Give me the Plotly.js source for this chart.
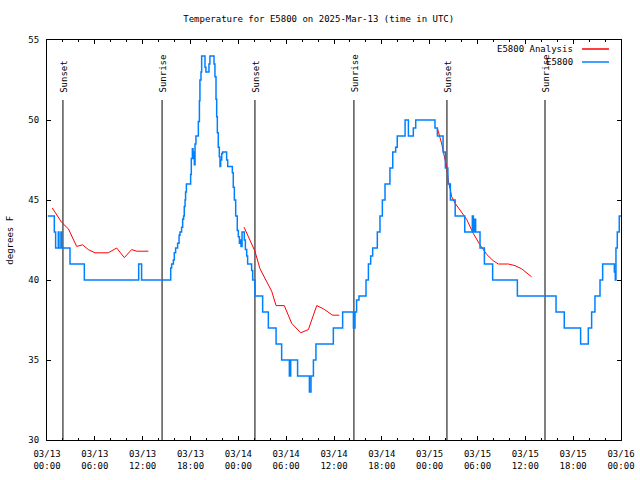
<!DOCTYPE html>
<html>
<head>
<meta charset="utf-8">
<script src="https://cdn.plot.ly/plotly-3.0.1.min.js"></script>
<style>html,body{margin:0;padding:0;background:#fff;}#chart{width:640px;height:480px;}</style>
</head>
<body>
<div id="chart"></div>
<script>
// Observed station temperature (E5800), step series
var obsTimes = [
 '2025-03-13 00:06','2025-03-13 00:55','2025-03-13 01:05','2025-03-13 01:25','2025-03-13 01:30','2025-03-13 01:45',
 '2025-03-13 01:50','2025-03-13 02:53','2025-03-13 04:41','2025-03-13 11:30',
 '2025-03-13 11:52','2025-03-13 15:31','2025-03-13 15:38','2025-03-13 15:51','2025-03-13 15:58','2025-03-13 16:08',
 '2025-03-13 16:23','2025-03-13 16:34','2025-03-13 16:41','2025-03-13 16:53','2025-03-13 17:01','2025-03-13 17:08',
 '2025-03-13 17:13','2025-03-13 17:19','2025-03-13 17:23','2025-03-13 17:29','2025-03-13 18:01','2025-03-13 18:06',
 '2025-03-13 18:14','2025-03-13 18:19','2025-03-13 18:24','2025-03-13 18:29','2025-03-13 18:34','2025-03-13 18:41',
 '2025-03-13 18:59','2025-03-13 19:07','2025-03-13 19:11','2025-03-13 19:19','2025-03-13 19:24','2025-03-13 19:49',
 '2025-03-13 19:56','2025-03-13 20:19','2025-03-13 20:26','2025-03-13 20:57','2025-03-13 21:04','2025-03-13 21:12',
 '2025-03-13 21:17','2025-03-13 21:22','2025-03-13 21:29','2025-03-13 21:37','2025-03-13 21:42','2025-03-13 21:47',
 '2025-03-13 21:55','2025-03-13 22:02','2025-03-13 22:32','2025-03-13 22:40','2025-03-13 23:15','2025-03-13 23:22',
 '2025-03-13 23:30','2025-03-13 23:40','2025-03-13 23:52','2025-03-14 00:00','2025-03-14 00:08','2025-03-14 00:13',
 '2025-03-14 00:20','2025-03-14 00:28','2025-03-14 00:45','2025-03-14 00:53','2025-03-14 01:03','2025-03-14 01:10',
 '2025-03-14 01:40','2025-03-14 01:48','2025-03-14 02:05','2025-03-14 03:03','2025-03-14 03:46','2025-03-14 04:44',
 '2025-03-14 05:26','2025-03-14 06:24','2025-03-14 06:34','2025-03-14 07:26','2025-03-14 08:55','2025-03-14 09:07',
 '2025-03-14 09:25','2025-03-14 09:44','2025-03-14 11:55','2025-03-14 13:05','2025-03-14 14:26','2025-03-14 14:38',
 '2025-03-14 14:50','2025-03-14 15:08','2025-03-14 16:01','2025-03-14 16:19','2025-03-14 16:36','2025-03-14 16:51',
 '2025-03-14 17:26','2025-03-14 17:46','2025-03-14 18:04','2025-03-14 18:24','2025-03-14 19:01','2025-03-14 19:22',
 '2025-03-14 19:44','2025-03-14 19:56','2025-03-14 20:55','2025-03-14 21:20','2025-03-14 21:57','2025-03-14 22:15',
 '2025-03-15 00:40','2025-03-15 00:58','2025-03-15 01:41','2025-03-15 01:58','2025-03-15 02:17','2025-03-15 02:36',
 '2025-03-15 03:12','2025-03-15 04:24','2025-03-15 05:21','2025-03-15 05:29','2025-03-15 05:36','2025-03-15 05:46',
 '2025-03-15 06:19','2025-03-15 06:52','2025-03-15 07:54','2025-03-15 11:00','2025-03-15 15:51','2025-03-15 16:53',
 '2025-03-15 18:56','2025-03-15 19:54','2025-03-15 20:19','2025-03-15 20:44','2025-03-15 21:22','2025-03-15 21:42',
 '2025-03-15 23:10','2025-03-15 23:17','2025-03-15 23:22','2025-03-15 23:32','2025-03-15 23:47','2025-03-16 00:00'
];
var obsTemps = [
 44,43,42,43,42,43,
 42,41,40,41,
 40,40.75,41,41.25,41.7,42,
 42.3,42.8,43,43.3,43.8,44,
 44.6,45,45.5,46,46.6,47.6,
 48.2,47.6,48,47.2,48.5,49,
 49.9,51.2,52.5,53,54,53.3,
 53,53.5,54,53.5,52.7,51.3,
 50.2,49.2,48.3,47.7,47.1,47.5,
 47.9,48,47.5,47.1,46.7,45.8,
 45,44,43.1,42.7,42.3,42.5,
 42.1,43,42.5,41.9,41.5,41,
 40.6,40,39,38,37,36,
 35,34,35,34,33,34,
 35,36,37,38,37,38,
 38.75,39,40,41,41.5,42,
 43,44,45,46,47,48,
 48.3,49,50,49,49.5,50,
 49.5,49,48,47,46,45,
 44,43,44,43,43.8,43,
 42,41,40,39,38,37,
 36,37,38,39,40,41,
 40.5,40,42,43,44,44
];

// Analysis temperature (E5800 Analysis)
var anaTimes = [
 '2025-03-13 00:40','2025-03-13 01:50','2025-03-13 02:41','2025-03-13 03:18','2025-03-13 03:43','2025-03-13 04:28',
 '2025-03-13 05:11','2025-03-13 06:01','2025-03-13 06:26','2025-03-13 07:41','2025-03-13 08:44','2025-03-13 09:42',
 '2025-03-13 10:37','2025-03-13 11:15','2025-03-13 12:43','2025-03-13 18:00',
 '2025-03-14 00:43','2025-03-14 01:28','2025-03-14 02:05','2025-03-14 02:43','2025-03-14 03:33','2025-03-14 04:11',
 '2025-03-14 04:44','2025-03-14 05:46','2025-03-14 06:41','2025-03-14 07:49','2025-03-14 08:47','2025-03-14 09:50',
 '2025-03-14 10:40','2025-03-14 11:50','2025-03-14 12:40','2025-03-14 18:00',
 '2025-03-15 00:58','2025-03-15 01:31','2025-03-15 01:56','2025-03-15 02:08','2025-03-15 02:21','2025-03-15 02:46',
 '2025-03-15 03:11','2025-03-15 03:48','2025-03-15 04:38','2025-03-15 05:29','2025-03-15 06:19','2025-03-15 07:09',
 '2025-03-15 07:59','2025-03-15 08:37','2025-03-15 09:52','2025-03-15 10:42','2025-03-15 11:32','2025-03-15 12:47'
];
var anaTemps = [
 44.5,43.6,43.2,42.5,42.1,42.2,
 41.9,41.7,41.7,41.7,42.0,41.4,
 41.9,41.8,41.8,null,
 43.3,42.5,41.8,40.7,39.9,39.3,
 38.4,38.4,37.3,36.7,36.9,38.4,
 38.2,37.8,37.8,null,
 49.5,48.5,47.5,47.1,46.2,45.2,
 44.8,44.4,43.8,42.9,42.2,41.6,
 41.2,41.0,41.0,40.9,40.7,40.2
];

// Sun events
var sunTimes = ['2025-03-13 02:00','2025-03-13 14:26','2025-03-14 02:05','2025-03-14 14:30','2025-03-15 02:10','2025-03-15 14:28'];
var sunLabels = ['Sunset','Sunrise','Sunset','Sunrise','Sunset','Sunrise'];

var seriesNames = ['E5800 Analysis','E5800'];
var seriesColors = ['#ff0000','rgb(0,128,255)'];
var titleText = 'Temperature for E5800 on 2025-Mar-13 (time in UTC)';
var yLabel = 'degrees F';

var FONT = 'DejaVu Sans Mono, Liberation Mono, monospace';

var traces = [
  {x: anaTimes, y: anaTemps, type: 'scatter', mode: 'lines', name: seriesNames[0],
   line: {color: seriesColors[0], width: 1}, connectgaps: false, showlegend: false},
  {x: obsTimes, y: obsTemps, type: 'scatter', mode: 'lines', name: seriesNames[1],
   line: {color: seriesColors[1], width: 1.5, shape: 'hv'}, showlegend: false}
];

var shapes = [];
var annotations = [];
sunTimes.forEach(function (t, i) {
  shapes.push({type: 'line', xref: 'x', yref: 'y', x0: t, x1: t, y0: 30, y1: 51.25,
               line: {color: '#000', width: 1}, layer: 'below'});
  annotations.push({x: t, y: 51.6, xref: 'x', yref: 'y', text: sunLabels[i], showarrow: false,
                    textangle: -90, xanchor: 'center', yanchor: 'bottom', xshift: 1,
                    font: {family: FONT, size: 9, color: '#000'}});
});

// custom gnuplot-style key (text left, sample right)
var keyY = [0.9775, 0.945];
seriesNames.forEach(function (n, i) {
  annotations.push({x: 0.92, y: keyY[i], xref: 'paper', yref: 'paper', text: n, showarrow: false,
                    xanchor: 'right', yanchor: 'middle', font: {family: FONT, size: 9, color: '#000'}});
  shapes.push({type: 'line', xref: 'paper', yref: 'paper', x0: 0.932, x1: 0.979, y0: keyY[i], y1: keyY[i],
               line: {color: seriesColors[i], width: 1.5}});
});

annotations.push({x: -0.065, y: 0.5, xref: 'paper', yref: 'paper', text: yLabel, showarrow: false,
                  textangle: -90, xanchor: 'center', yanchor: 'middle', font: {family: FONT, size: 9, color: '#000'}});

var layout = {
  width: 640, height: 480,
  margin: {l: 47, r: 19, t: 40, b: 40, pad: 0},
  paper_bgcolor: '#fff', plot_bgcolor: '#fff',
  font: {family: FONT, size: 9, color: '#000'},
  title: {text: titleText, x: 0.498, xref: 'container', xanchor: 'center', y: 0.96, yref: 'container', yanchor: 'middle',
          font: {family: FONT, size: 9, color: '#000'}},
  showlegend: false,
  xaxis: {
    type: 'date', range: ['2025-03-13 00:00', '2025-03-16 00:00'],
    tick0: '2025-03-13 00:00', dtick: 21600000, tickformat: '%m/%d<br>%H:%M',
    ticks: 'inside', ticklen: 4, tickcolor: '#000', tickwidth: 1, ticklabelstandoff: 5,
    minor: {dtick: 7200000, tick0: '2025-03-13 00:00', ticks: 'inside', ticklen: 2, tickcolor: '#000', showgrid: false},
    showline: true, linecolor: '#000', linewidth: 1, mirror: 'allticks',
    showgrid: false, zeroline: false, fixedrange: true,
    tickfont: {family: FONT, size: 9, color: '#000'}
  },
  yaxis: {
    range: [30, 55], dtick: 5, tick0: 30,
    ticks: 'inside', ticklen: 4, tickcolor: '#000', tickwidth: 1, ticklabelstandoff: 5,
    showline: true, linecolor: '#000', linewidth: 1, mirror: 'allticks',
    showgrid: false, zeroline: false, fixedrange: true,
    tickfont: {family: FONT, size: 9, color: '#000'}
  },
  shapes: shapes,
  annotations: annotations
};

Plotly.newPlot('chart', traces, layout, {displayModeBar: false, staticPlot: true});
</script>
</body>
</html>
